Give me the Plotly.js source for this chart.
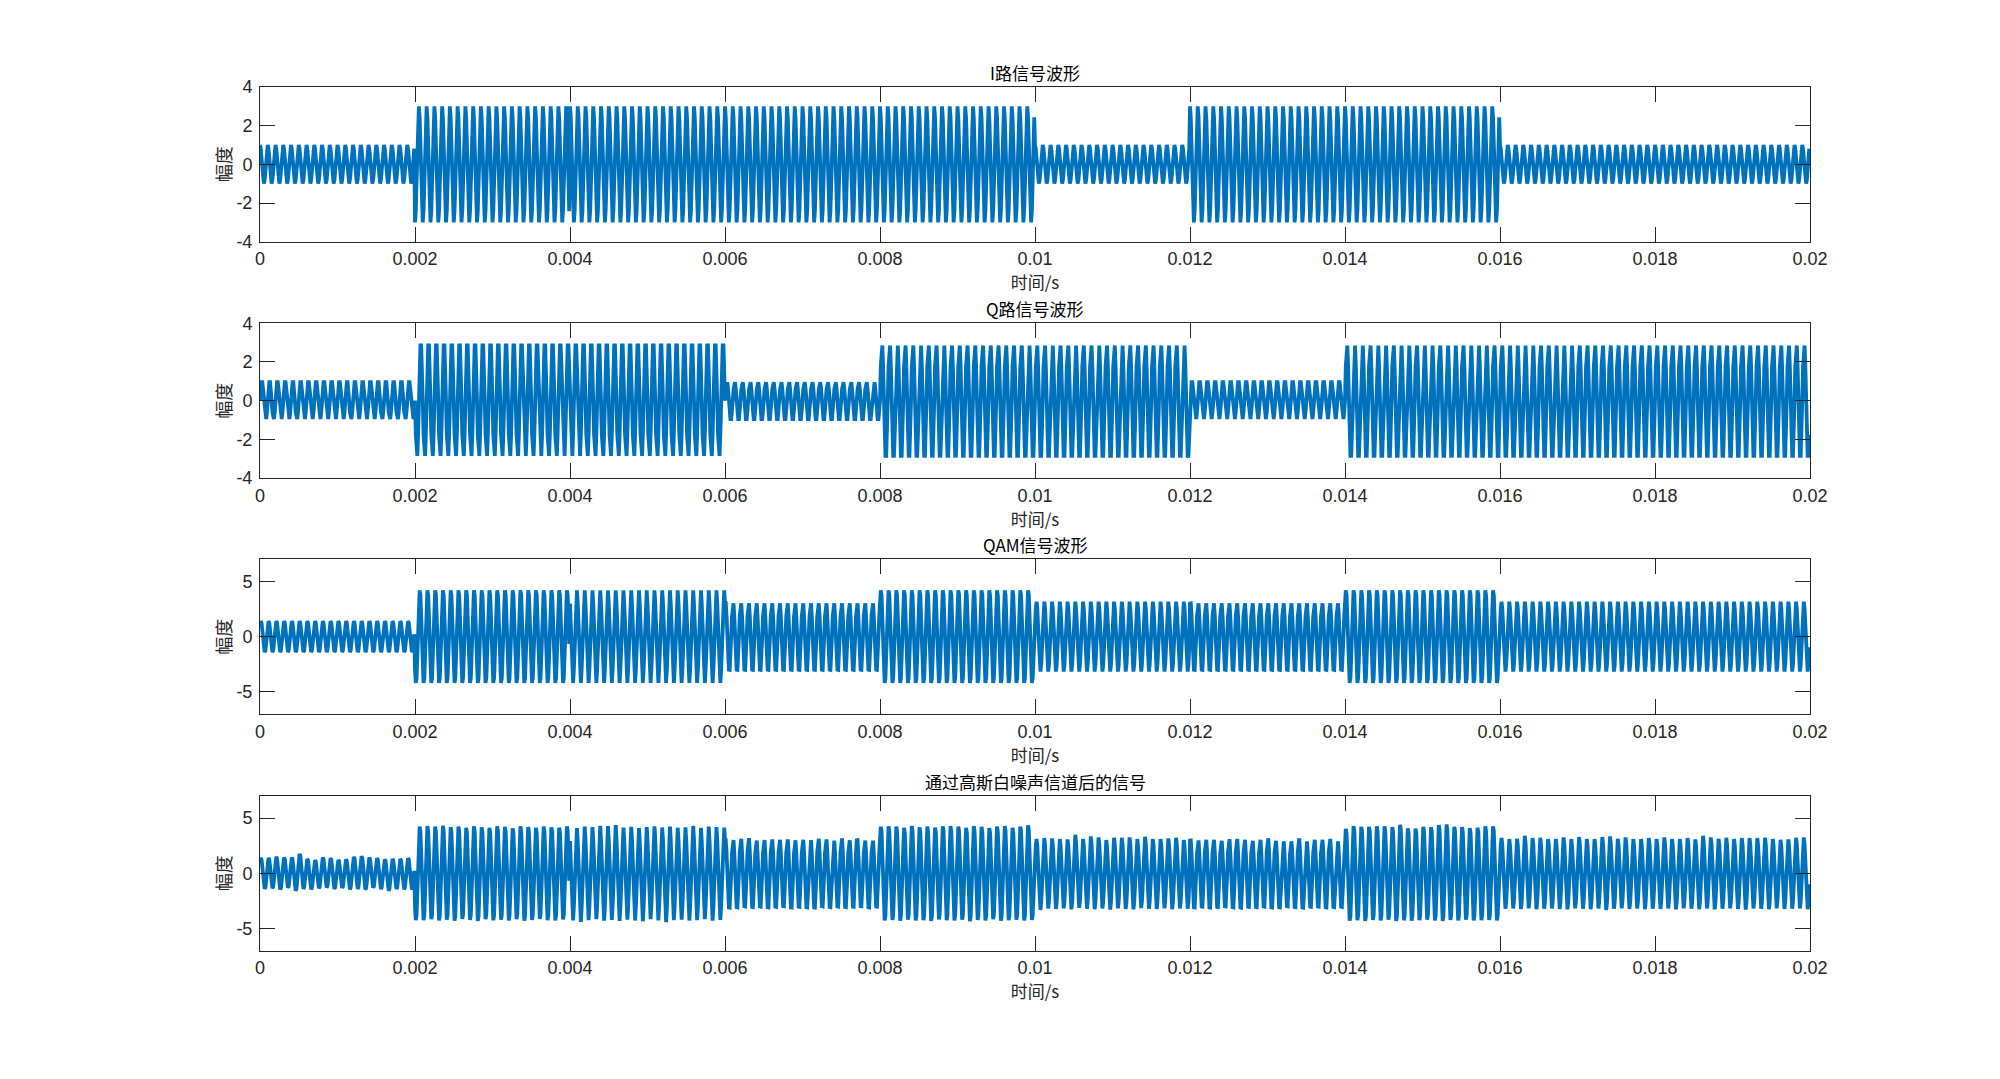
<!DOCTYPE html>
<html>
<head>
<meta charset="utf-8">
<script src="https://cdn.plot.ly/plotly-3.0.1.min.js"></script>
<style>
  html, body { margin: 0; padding: 0; background: #ffffff; }
  #chart { width: 2000px; height: 1079px; }
</style>
</head>
<body>
<div id="chart"></div>
<script>
// ---- Data ----
const carrierFreq = 10000;     // Hz (20 cycles per 0.002 s symbol)
const sampleRate = 100000;     // Hz (10 samples per cycle)
const samplesPerSymbol = 200;  // 0.002 s per symbol
const iSymbols = [1, -3, 3, 3, 3, 1, 3, 3, 1, 1];
const qSymbols = [1, -3, -3, 1, 3, 3, 1, 3, 3, 3];

// peak deviations of the noisy signal, one per carrier cycle (upper lobes / lower lobes)
const topDev = [
  0.00,0.10,0.04,0.04,0.37,-0.09,-0.21,0.04,-0.02,-0.18,-0.15,0.10,0.16,0.04,-0.02,-0.15,-0.09,-0.09,-0.02,0.01,
  0.05,0.10,0.05,0.12,0.00,0.05,-0.08,0.06,-0.03,-0.08,0.06,0.02,-0.12,0.06,0.00,-0.08,0.05,-0.02,-0.06,0.06,
  -0.10,0.05,0.00,0.12,0.08,0.18,-0.05,0.02,-0.10,0.00,0.06,-0.04,0.04,-0.06,-0.02,0.10,-0.08,0.04,0.00,-0.05,
  0.00,0.12,0.18,-0.05,0.00,0.06,0.02,0.06,-0.03,0.02,0.00,0.12,0.06,-0.06,0.15,-0.02,0.00,-0.05,-0.06,0.03,
  0.06,0.05,-0.06,0.08,-0.02,0.04,-0.05,0.06,0.08,0.04,-0.06,0.08,0.02,-0.10,0.04,0.10,-0.06,0.05,0.15,-0.05,
  0.03,0.03,0.00,-0.06,-0.09,0.33,-0.06,0.18,0.09,-0.15,0.06,0.06,0.09,-0.06,0.15,-0.06,-0.06,0.00,0.06,-0.15,
  -0.04,0.02,0.02,-0.07,0.08,0.11,0.02,-0.07,0.02,0.17,-0.07,-0.13,-0.13,0.17,-0.13,0.02,0.02,0.11,-0.13,-0.16,
  0.09,0.03,0.03,0.06,0.06,0.00,0.21,-0.12,-0.15,0.03,0.00,0.18,0.24,0.03,0.00,-0.09,-0.06,0.06,0.06,0.03,
  -0.06,-0.06,-0.03,0.24,0.03,0.06,-0.06,-0.06,0.09,-0.06,0.12,-0.06,-0.06,0.12,0.18,-0.03,0.09,-0.06,-0.06,0.03,
  -0.06,0.09,-0.06,-0.06,0.03,-0.09,0.24,0.09,-0.03,0.06,-0.06,0.03,0.03,0.03,0.06,-0.06,-0.12,-0.09,0.06,0.09
];
const botDev = [
  0.00,-0.05,0.06,-0.10,0.18,0.00,0.05,-0.04,-0.12,0.02,-0.08,0.05,0.00,0.08,-0.10,0.03,0.18,0.02,0.05,0.08,
  0.05,-0.04,0.08,0.00,0.10,-0.06,0.03,0.12,-0.05,0.06,0.00,0.08,-0.04,0.10,0.02,-0.06,0.04,0.08,-0.02,0.00,
  0.06,0.20,0.04,-0.04,0.10,0.02,0.12,0.00,0.08,0.15,-0.05,0.06,0.22,0.04,0.00,0.08,0.05,-0.04,0.10,0.02,
  0.10,0.06,-0.02,0.04,0.00,0.06,0.03,-0.04,0.08,0.02,0.06,0.10,-0.02,0.04,0.00,0.05,0.02,-0.04,0.06,0.00,
  0.08,0.02,0.10,0.00,0.06,0.04,0.12,-0.03,0.05,0.08,0.00,0.15,0.02,0.06,-0.04,0.10,0.04,0.00,0.08,0.02,
  0.15,0.02,0.06,0.00,0.10,-0.04,0.04,0.08,0.02,0.12,0.00,0.06,0.10,-0.02,0.04,0.06,0.00,0.08,0.02,0.04,
  0.06,0.00,0.08,0.04,-0.02,0.06,0.10,0.02,0.04,0.00,0.08,0.06,-0.02,0.04,0.10,0.02,0.00,0.06,0.04,0.02,
  0.10,0.05,0.12,0.02,0.08,0.00,0.12,0.06,0.10,0.04,0.00,0.08,0.12,0.02,0.06,0.00,0.08,0.04,0.02,0.06,
  0.04,0.02,0.06,0.00,0.08,0.04,0.02,0.06,0.10,0.00,0.04,0.08,0.02,0.15,0.04,0.00,0.06,0.02,0.08,0.04,
  0.06,0.02,0.10,0.00,0.04,0.08,0.02,0.10,0.04,0.00,0.06,0.12,0.02,0.04,0.08,0.00,0.06,0.04,0.02,0.08
];

const xTickVals = [0, 0.002, 0.004, 0.006, 0.008, 0.01, 0.012, 0.014, 0.016, 0.018, 0.02];
const xTickText = ['0', '0.002', '0.004', '0.006', '0.008', '0.01', '0.012', '0.014', '0.016', '0.018', '0.02'];
const yTicksIQ = [-4, -2, 0, 2, 4];
const yTickTextIQ = ['-4', '-2', '0', '2', '4'];
const yTicksQAM = [-5, 0, 5];
const yTickTextQAM = ['-5', '0', '5'];
const titles = ['I路信号波形', 'Q路信号波形', 'QAM信号波形', '通过高斯白噪声信道后的信号'];
const xLabel = '时间/s';
const yLabel = '幅度';

// ---- Build the waveforms from the symbols ----
const nSamples = iSymbols.length * samplesPerSymbol;
const t = [], iWave = [], qWave = [], qamWave = [], noisyWave = [];
const samplesPerCycle = sampleRate / carrierFreq;
let prevSign = 0, lobeCycle = 0;
for (let n = 0; n < nSamples; n++) {
  const tn = n / sampleRate;
  const k = Math.floor(n / samplesPerSymbol);
  const ph = 2 * Math.PI * carrierFreq * tn;
  const iv = iSymbols[k] * Math.cos(ph);
  const qv = qSymbols[k] * Math.sin(ph);
  const s = iv + qv;
  t.push(tn); iWave.push(iv); qWave.push(qv); qamWave.push(s);
  const sg = s > 1e-12 ? 1 : (s < -1e-12 ? -1 : 0);
  if (sg !== 0 && sg !== prevSign) { lobeCycle = Math.min(Math.floor(n / samplesPerCycle), 199); prevSign = sg; }
  const amp = Math.sqrt(iSymbols[k] * iSymbols[k] + qSymbols[k] * qSymbols[k]);
  const dev = sg > 0 ? topDev[lobeCycle] : (sg < 0 ? botDev[lobeCycle] : 0);
  noisyWave.push(s * (1 + dev / amp));
}

// ---- Layout geometry (pixels) ----
const W = 2000, H = 1079;
const plotLeft = 260, plotRight = 1810;
const plotTops = [87, 323.3, 559.3, 796];
const plotH = 154.7;
const series = [iWave, qWave, qamWave, noisyWave];
const yRanges = [[-4, 4], [-4, 4], [-7, 7], [-7, 7]];
const yTicks = [yTicksIQ, yTicksIQ, yTicksQAM, yTicksQAM];
const yTickTexts = [yTickTextIQ, yTickTextIQ, yTickTextQAM, yTickTextQAM];

const axColor = '#262626';
const tickFont = { family: 'Liberation Sans, Arial, sans-serif', size: 18, color: axColor };
const cjkFont = 'Noto Sans CJK SC, sans-serif';

const data = [];
const layout = {
  width: W, height: H,
  margin: { l: 0, r: 0, t: 0, b: 0, pad: 0 },
  paper_bgcolor: '#ffffff', plot_bgcolor: '#ffffff',
  showlegend: false,
  annotations: []
};

for (let p = 0; p < 4; p++) {
  const sfx = p === 0 ? '' : String(p + 1);
  data.push({
    x: t, y: series[p], type: 'scatter', mode: 'lines',
    xaxis: 'x' + sfx, yaxis: 'y' + sfx,
    line: { color: '#0072BD', width: 3.8 },
    hoverinfo: 'skip'
  });
  const top = plotTops[p], bottom = top + plotH;
  layout['xaxis' + sfx] = {
    domain: [plotLeft / W, plotRight / W],
    anchor: 'y' + sfx,
    range: [0, 0.02],
    tickmode: 'array', tickvals: xTickVals, ticktext: xTickText,
    ticks: 'inside', ticklen: 15, tickwidth: 1, tickcolor: axColor,
    showline: true, linecolor: axColor, linewidth: 1, mirror: 'ticks',
    showgrid: false, zeroline: false,
    tickfont: tickFont,
    ticklabelstandoff: 1,
    title: { text: xLabel, font: { family: cjkFont, size: 17, color: axColor }, standoff: 2 },
    fixedrange: true
  };
  layout['yaxis' + sfx] = {
    domain: [1 - bottom / H, 1 - top / H],
    anchor: 'x' + sfx,
    range: yRanges[p],
    tickmode: 'array', tickvals: yTicks[p], ticktext: yTickTexts[p],
    ticks: 'inside', ticklen: 15, tickwidth: 1, tickcolor: axColor,
    showline: true, linecolor: axColor, linewidth: 1, mirror: 'ticks',
    showgrid: false, zeroline: false,
    tickfont: tickFont,
    ticklabelstandoff: 3,
    title: { text: yLabel, font: { family: cjkFont, size: 18, color: axColor }, standoff: 0 },
    fixedrange: true
  };
  layout.annotations.push({
    text: titles[p], xref: 'paper', yref: 'paper',
    x: (plotLeft + plotRight) / 2 / W, y: 1 - (top - 15) / H,
    xanchor: 'center', yanchor: 'middle', showarrow: false,
    font: { family: cjkFont, size: 17, color: '#000000' }
  });
}

Plotly.newPlot('chart', data, layout, { staticPlot: true, displayModeBar: false });
</script>
</body>
</html>
